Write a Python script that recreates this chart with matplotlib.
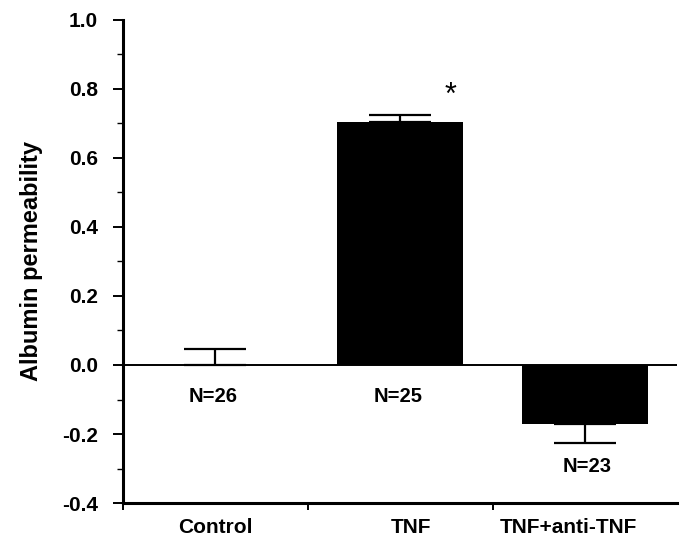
import matplotlib.pyplot as plt
from matplotlib.ticker import MultipleLocator

groups = ["Control", "TNF", "TNF+anti-TNF"]
means = [0.0, 0.704, -0.171]
errs = [0.046, 0.021, 0.055]
n_labels = ["N=26", "N=25", "N=23"]

plt.rcParams['font.family'] = ['Liberation Sans', 'DejaVu Sans']
plt.rcParams['font.weight'] = 'bold'

fig = plt.figure(figsize=(6.8, 5.37), dpi=100)
ax = fig.add_axes([0.181, 0.0633, 0.815, 0.8995])

x = list(range(len(groups)))
ax.bar(x, means, width=0.68, color="black")
# one-sided error bars (away from zero)
for xi, m, e in zip(x, means, errs):
    lo, hi = (0, e) if m >= 0 else (e, 0)
    ax.errorbar(xi, m, yerr=[[lo], [hi]], fmt="none", ecolor="black",
                elinewidth=1.6, capsize=22, capthick=1.6)

ax.axhline(0, color="black", lw=1.4)

# N labels
ax.text(x[0] - 0.01, -0.09, n_labels[0], ha="center", va="center", fontsize=14.5)
ax.text(x[1] - 0.01, -0.09, n_labels[1], ha="center", va="center", fontsize=14.5)
ax.text(x[2] + 0.01, -0.293, n_labels[2], ha="center", va="center", fontsize=14.5)
ax.text(1.27, 0.78, "*", ha="center", va="center", fontsize=22, fontweight="normal")

ax.set_xlim(-0.5, 2.5)
ax.set_ylim(-0.4, 1.0)
ax.yaxis.set_minor_locator(MultipleLocator(0.1))
ax.set_yticks([-0.4, -0.2, 0.0, 0.2, 0.4, 0.6, 0.8, 1.0])
ax.set_yticklabels(["-0.4", "-0.2", "0.0", "0.2", "0.4", "0.6", "0.8", "1.0"],
                   fontsize=15, fontweight="heavy")
ax.tick_params(axis="y", which="major", length=7, width=1.4, pad=11)
ax.tick_params(axis="y", which="minor", length=4, width=1.0)

ax.set_xticks([-0.5, 0.5, 1.5])
ax.set_xticklabels([])
ax.set_xticks([0.0, 1.06, 1.91], minor=True)
ax.set_xticklabels(groups, minor=True, fontsize=15, fontweight="heavy")
ax.tick_params(axis="x", which="major", length=5, width=1.4)
ax.tick_params(axis="x", which="minor", length=0, pad=11)

ax.spines["top"].set_visible(False)
ax.spines["right"].set_visible(False)
ax.spines["left"].set_linewidth(2.2)
ax.spines["bottom"].set_linewidth(2.2)

ax.set_ylabel("Albumin permeability", fontsize=17, fontweight="bold", labelpad=14)

fig.savefig("out.png", dpi=100)
